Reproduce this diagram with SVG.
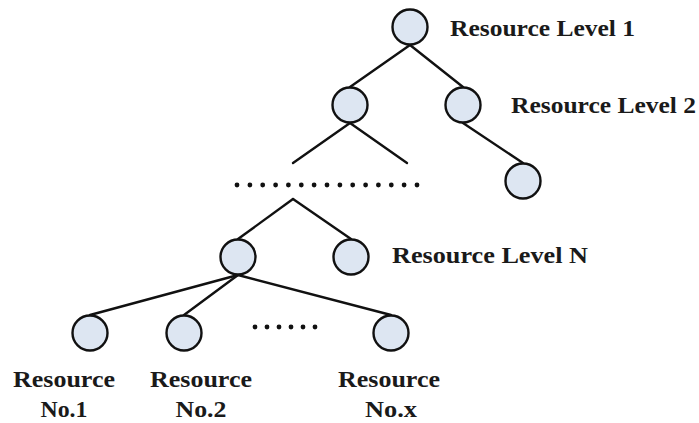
<svg xmlns="http://www.w3.org/2000/svg" width="699" height="423" viewBox="0 0 699 423">
<style>
.n{fill:#dde6f2;stroke:#111;stroke-width:2.4}
.e{stroke:#111;stroke-width:2.4;fill:none;stroke-linecap:round}
.d{fill:#111}
text{font-family:"Liberation Serif","Times New Roman",serif;font-weight:bold;font-size:24px;fill:#1a1a1a}
.m{text-anchor:middle}
.s{font-size:23px}
</style>
<rect width="699" height="423" fill="#fff"/>
<g id="connectors">
<line class="e" x1="410" y1="45" x2="350" y2="87"/>
<line class="e" x1="410" y1="45" x2="463" y2="87"/>
<line class="e" x1="350" y1="123" x2="293" y2="163"/>
<line class="e" x1="350" y1="123" x2="407" y2="163"/>
<line class="e" x1="463" y1="123" x2="523" y2="163"/>
<line class="e" x1="293" y1="199" x2="238" y2="239"/>
<line class="e" x1="293" y1="199" x2="351" y2="239"/>
<line class="e" x1="238" y1="275" x2="90" y2="315"/>
<line class="e" x1="238" y1="275" x2="184" y2="315"/>
<line class="e" x1="238" y1="275" x2="391" y2="315"/>
</g>
<g id="dots-top">
<circle class="d" cx="237" cy="185" r="2.4"/><circle class="d" cx="249.9" cy="185" r="2.4"/><circle class="d" cx="262.7" cy="185" r="2.4"/><circle class="d" cx="275.6" cy="185" r="2.4"/><circle class="d" cx="288.4" cy="185" r="2.4"/><circle class="d" cx="301.3" cy="185" r="2.4"/><circle class="d" cx="314.1" cy="185" r="2.4"/><circle class="d" cx="327" cy="185" r="2.4"/><circle class="d" cx="339.9" cy="185" r="2.4"/><circle class="d" cx="352.7" cy="185" r="2.4"/><circle class="d" cx="365.6" cy="185" r="2.4"/><circle class="d" cx="378.4" cy="185" r="2.4"/><circle class="d" cx="391.3" cy="185" r="2.4"/><circle class="d" cx="404.1" cy="185" r="2.4"/><circle class="d" cx="417" cy="185" r="2.4"/>
</g>
<g id="dots-bottom">
<circle class="d" cx="255" cy="327" r="2.4"/><circle class="d" cx="267" cy="327" r="2.4"/><circle class="d" cx="279" cy="327" r="2.4"/><circle class="d" cx="291" cy="327" r="2.4"/><circle class="d" cx="303" cy="327" r="2.4"/><circle class="d" cx="315" cy="327" r="2.4"/>
</g>
<g id="level1"><circle class="n" cx="410" cy="27" r="17.5"/><text x="450" y="36" textLength="185" lengthAdjust="spacingAndGlyphs">Resource Level 1</text></g>
<g id="level2a"><circle class="n" cx="350" cy="105" r="17.5"/></g>
<g id="level2b"><circle class="n" cx="463" cy="105" r="17.5"/><text x="511" y="113" textLength="185" lengthAdjust="spacingAndGlyphs">Resource Level 2</text></g>
<g id="level3b"><circle class="n" cx="523" cy="181" r="17.5"/></g>
<g id="levelNa"><circle class="n" cx="238" cy="257" r="17.5"/></g>
<g id="levelNb"><circle class="n" cx="351" cy="257" r="17.5"/><text x="392" y="263" textLength="196" lengthAdjust="spacingAndGlyphs">Resource Level N</text></g>
<g id="res1"><circle class="n" cx="90" cy="333" r="17.5"/><text class="m" x="64" y="387" textLength="102" lengthAdjust="spacingAndGlyphs">Resource</text><text class="m s" x="64" y="417" textLength="47" lengthAdjust="spacingAndGlyphs">No.1</text></g>
<g id="res2"><circle class="n" cx="184" cy="333" r="17.5"/><text class="m" x="201" y="387" textLength="102" lengthAdjust="spacingAndGlyphs">Resource</text><text class="m s" x="201" y="417" textLength="51" lengthAdjust="spacingAndGlyphs">No.2</text></g>
<g id="resx"><circle class="n" cx="391" cy="333" r="17.5"/><text class="m" x="389" y="387" textLength="102" lengthAdjust="spacingAndGlyphs">Resource</text><text class="m s" x="391" y="417" textLength="52" lengthAdjust="spacingAndGlyphs">No.x</text></g>
</svg>
